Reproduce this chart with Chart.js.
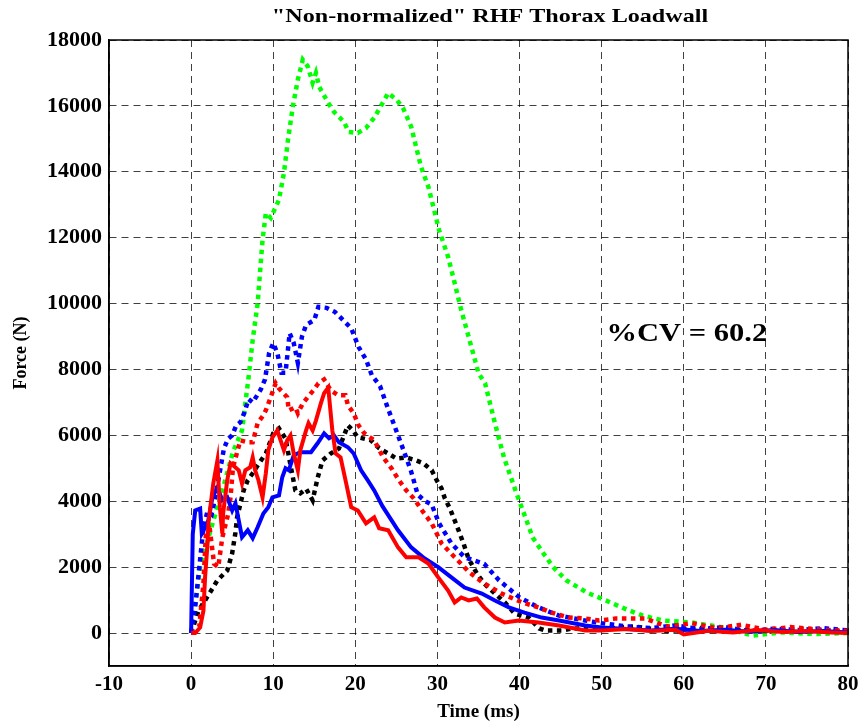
<!DOCTYPE html>
<html>
<head>
<meta charset="utf-8">
<script src="https://cdn.jsdelivr.net/npm/chart.js@4.4.1/dist/chart.umd.min.js"></script>
<style>
  html, body { margin: 0; padding: 0; background: #fff; overflow: hidden; }
  #wrap { width: 860px; height: 723px; position: relative; }
  canvas { display: block; }
</style>
</head>
<body>
<div id="wrap"><canvas id="myChart"></canvas></div>
<script>
// tick labels
const xTicks = [-10, 0, 10, 20, 30, 40, 50, 60, 70, 80];
const yTicks = [0, 2000, 4000, 6000, 8000, 10000, 12000, 14000, 16000, 18000];

// green dotted
const timeGreen = [0, 0.5, 1.1, 2, 2.7, 4, 5.1, 6.2, 7, 7.5, 8.1, 8.7, 9.1, 9.7, 10.7, 11.3, 11.8, 12.4, 13, 13.6, 14.2, 14.8, 15.2, 15.6, 16.7, 17.4, 18.6, 19.2, 20.3, 21.3, 22.3, 23.4, 24, 25, 25.8, 26.8, 27.4, 28, 28.9, 29.6, 30.2, 31.3, 32.1, 32.9, 33.8, 35, 35.8, 37, 38.1, 39.5, 40.4, 41.6, 42.9, 44.1, 45.7, 48.2, 50.5, 52.8, 55, 57.5, 61, 64.8, 68.4, 72, 76, 80];
const forceGreen = [0, 900, 2000, 2800, 3400, 4500, 5500, 6150, 7770, 8900, 10000, 11930, 12750, 12600, 13150, 13960, 14970, 16000, 16800, 17400, 17200, 16700, 17000, 16580, 16090, 15820, 15520, 15210, 15180, 15330, 15640, 16120, 16390, 16190, 15940, 15370, 14760, 14150, 13540, 12840, 12230, 11420, 10620, 9800, 8990, 7890, 7580, 6370, 5330, 4330, 3720, 2900, 2420, 2000, 1600, 1230, 990, 740, 530, 380, 320, 170, -80, 20, -30, 0];

// blue dotted
const timeBlueDot = [0, 0.5, 1, 1.5, 2, 2.5, 3, 3.5, 4, 4.5, 5, 5.5, 6, 6.5, 7, 7.5, 8, 8.5, 9, 9.5, 10, 10.5, 11, 11.5, 12, 12.5, 13, 13.5, 14, 15, 15.5, 16.5, 17.5, 18.5, 19.5, 20.4, 21.3, 22, 23, 24, 25.2, 26, 26.8, 27.6, 28.5, 29.3, 30.2, 31.7, 33.3, 35.7, 37.5, 40, 42.3, 44.8, 48, 50, 53, 56, 59, 62, 65, 68, 71, 74, 77, 80];
const forceBlueDot = [0, 800, 2000, 3200, 3700, 3600, 4200, 4900, 5600, 5900, 6000, 6300, 6400, 6700, 7100, 7000, 7200, 7400, 7700, 8500, 8800, 8500, 7900, 7900, 9100, 8800, 8200, 9000, 9350, 9500, 9900, 9870, 9750, 9500, 9250, 8680, 8300, 7830, 7500, 6800, 6000, 5460, 4900, 4200, 4000, 3900, 3330, 2720, 2300, 2100, 1600, 1080, 780, 530, 380, 300, 200, 150, 230, 120, 180, 60, 130, 90, 150, 80];

// black dotted
const timeBlack = [0, 0.9, 2.3, 3.2, 4.4, 5, 5.4, 5.6, 6.4, 6.9, 7.5, 8.1, 9.1, 10, 10.7, 11.5, 12.1, 12.7, 13.3, 14, 14.8, 15.4, 16, 17, 18, 19.1, 19.7, 20.3, 20.9, 21.9, 22.9, 24, 25, 26.2, 27.4, 28.3, 29.3, 29.9, 30.5, 30.9, 31.5, 32, 32.6, 33.2, 33.8, 34.8, 35.7, 37, 38.2, 39.4, 41.1, 42.4, 43.1, 45.2, 46.4, 50, 54, 58, 62, 66, 70, 74, 80];
const forceBlack = [0, 680, 1230, 1600, 1900, 2420, 3050, 3510, 4330, 4640, 4850, 5090, 5450, 6060, 6210, 5900, 5100, 4330, 4240, 4380, 4030, 4700, 5240, 5450, 5600, 6300, 6150, 5940, 5910, 5850, 5610, 5450, 5300, 5330, 5240, 5150, 4940, 4640, 4390, 4090, 3790, 3480, 3100, 2700, 2250, 1810, 1500, 1200, 930, 590, 470, 140, 80, 80, 140, 120, 200, 60, 150, 100, 60, 120, 50];

// red dotted
const timeRedDot = [0, 1, 1.5, 1.8, 2.2, 2.8, 3.3, 3.8, 4.5, 4.8, 5.1, 6, 6.9, 7.5, 8.1, 8.8, 9.1, 9.7, 10.3, 10.7, 11.7, 11.9, 12.7, 13, 13.6, 14.2, 14.9, 15.5, 16.2, 17, 17.9, 18.8, 19.1, 19.8, 20.4, 21.1, 22.3, 23.4, 24.4, 25.3, 26.2, 27.1, 28.3, 29.3, 30.5, 32.1, 33.9, 35.7, 37.8, 40.3, 42.3, 43.9, 46, 48, 49.7, 51.7, 55.3, 58, 61, 64, 67, 70, 73, 76, 80];
const forceRedDot = [0, 200, 1500, 3000, 3300, 2100, 2000, 2900, 3600, 4120, 5030, 5850, 5790, 5790, 6370, 6610, 6760, 7160, 7580, 7430, 7160, 6760, 6850, 6670, 6970, 7160, 7370, 7580, 7700, 7370, 7220, 7220, 6910, 6670, 6300, 6060, 5850, 5330, 5000, 4640, 4330, 4090, 3660, 3330, 2720, 2300, 1840, 1500, 1200, 930, 780, 620, 470, 440, 380, 440, 440, 200, 300, 150, 250, 100, 180, 120, 60];

// blue solid
const timeBlue = [0, 0.2, 0.5, 1.1, 1.3, 1.7, 2.1, 2.6, 3.2, 3.8, 4.4, 5, 5.4, 5.8, 6.2, 6.9, 7.5, 8.1, 8.8, 9.4, 9.9, 10.7, 11.1, 11.5, 11.9, 12.5, 13.3, 14.6, 15.4, 16.2, 16.8, 17.4, 18, 19.1, 19.8, 20.7, 21.5, 22.3, 23.3, 25.2, 26.8, 28.4, 30.1, 31.7, 33.3, 35.4, 37, 38.7, 40.6, 42.7, 44.8, 48, 50, 53, 56, 59, 62, 65, 68, 71, 74, 77, 80];
const forceBlue = [0, 3000, 3720, 3780, 3020, 3210, 3420, 4120, 4420, 4030, 4120, 3720, 3940, 3420, 2910, 3120, 2880, 3210, 3630, 3820, 4120, 4180, 4730, 5000, 4940, 5400, 5490, 5490, 5760, 6060, 5910, 6000, 5790, 5640, 5450, 4940, 4640, 4330, 3850, 3120, 2600, 2270, 2000, 1690, 1380, 1200, 990, 780, 620, 470, 380, 230, 170, 120, 80, 130, 60, 100, 40, 90, 30, 60, 20];

// red solid
const timeRed = [0, 0.5, 1.1, 1.5, 1.7, 2, 2.1, 2.7, 3.2, 3.3, 3.5, 3.8, 3.9, 4.4, 4.8, 5.1, 5.8, 6.2, 6.6, 7.2, 7.5, 7.8, 8.2, 8.7, 9.1, 9.4, 9.9, 10.5, 10.9, 11.3, 11.7, 12.1, 12.5, 13, 13.3, 14, 14.3, 14.8, 15.2, 15.8, 16.2, 16.7, 17.2, 17.6, 18.2, 18.8, 19.5, 20.3, 21.3, 22.3, 22.9, 24, 25.2, 26.2, 27.7, 28.9, 30.1, 31.3, 32.1, 32.9, 33.8, 34.8, 35.7, 37, 38.2, 39.9, 42.3, 44.8, 48, 50, 53, 56, 59, 60, 63, 66, 69, 72, 75, 78, 80];
const forceRed = [0, 0, 170, 680, 1690, 2720, 3330, 4540, 5240, 4730, 3820, 3020, 3630, 4640, 5150, 5090, 4940, 4540, 4940, 5030, 5330, 4940, 4640, 4120, 4850, 5550, 5940, 6150, 5850, 5550, 5850, 6000, 5450, 4940, 5550, 6150, 6370, 6150, 6450, 6970, 7280, 7450, 6150, 5450, 5330, 4640, 3820, 3720, 3330, 3510, 3180, 3120, 2600, 2300, 2300, 2110, 1690, 1290, 930, 1080, 990, 1050, 780, 470, 320, 380, 320, 230, 80, 80, 120, 60, 100, -40, 70, 20, 90, 30, 60, 20, 0];

const cvText = "%CV = 60.2";
const serif = "'Liberation Serif', 'Times New Roman', serif";

function pts(t, f) {
  return t.map((x, i) => ({ x: x, y: f[i] }));
}

function line(label, t, f, color, dotted) {
  return {
    label: label,
    data: pts(t, f),
    borderColor: color,
    backgroundColor: color,
    borderWidth: dotted ? 4.5 : 4,
    borderDash: dotted ? [4.5, 4.5] : [],
    borderCapStyle: "butt",
    pointRadius: 0,
    tension: 0,
    fill: false,
  };
}

// box round the plot, title and the %CV label
const extras = {
  id: "extras",
  afterDraw(chart) {
    const ctx = chart.ctx;
    const a = chart.chartArea;
    ctx.save();
    ctx.strokeStyle = "#000";
    ctx.lineWidth = 1.5;
    ctx.strokeRect(a.left, a.top, a.right - a.left, a.bottom - a.top);

    ctx.fillStyle = "#000";
    ctx.textBaseline = "middle";
    ctx.textAlign = "center";
    ctx.save();
    ctx.translate(490, 17);
    ctx.scale(1.27, 1);
    ctx.font = "bold 19px " + serif;
    ctx.fillText('"Non-normalized" RHF Thorax Loadwall', 0, 0);
    ctx.restore();

    const x = chart.scales.x.getPixelForValue(50.6);
    const y = chart.scales.y.getPixelForValue(9050);
    ctx.font = "bold 25px " + serif;
    ctx.textAlign = "left";
    ctx.translate(x, y);
    ctx.scale(1.22, 1);
    ctx.fillText(cvText, 0, 0);
    ctx.restore();
  },
};

const ctx = document.getElementById("myChart").getContext("2d");
const myChart = new Chart(ctx, {
  type: "line",
  data: {
    datasets: [
      line("red", timeRed, forceRed, "#ff0000", false),
      line("blue", timeBlue, forceBlue, "#0000ff", false),
      line("red dotted", timeRedDot, forceRedDot, "#ff0000", true),
      line("blue dotted", timeBlueDot, forceBlueDot, "#0000ff", true),
      line("black dotted", timeBlack, forceBlack, "#000000", true),
      line("green dotted", timeGreen, forceGreen, "#00ff00", true),
    ],
  },
  options: {
    responsive: true,
    maintainAspectRatio: false,
    animation: false,
    layout: { padding: { top: 40, right: 12, left: 0, bottom: 0 } },
    plugins: {
      legend: { display: false },
      title: { display: false },
      tooltip: { enabled: false },
    },
    scales: {
      x: {
        type: "linear",
        min: -10,
        max: 80,
        afterBuildTicks: (s) => { s.ticks = xTicks.map((v) => ({ value: v })); },
        afterFit: (s) => {
          s.height = 57;
          s.paddingLeft = 0;
          s.paddingRight = 0;
        },
        grid: { color: "rgba(0,0,0,0.75)", lineWidth: 1, drawTicks: false },
        border: { display: true, color: "#000", width: 1.5, dash: [7, 5] },
        ticks: {
          color: "#000",
          padding: 6,
          font: { family: serif, size: 21, weight: "bold" },
          callback: (v) => String(v),
        },
        title: {
          display: true,
          text: "Time (ms)",
          color: "#000",
          padding: { top: 0, bottom: 0 },
          font: { family: serif, size: 19, weight: "bold" },
        },
      },
      y: {
        type: "linear",
        min: -1000,
        max: 18000,
        afterBuildTicks: (s) => { s.ticks = yTicks.map((v) => ({ value: v })); },
        afterFit: (s) => { s.width = 109; },
        grid: { color: "rgba(0,0,0,0.75)", lineWidth: 1, drawTicks: false },
        border: { display: true, color: "#000", width: 1.5, dash: [7, 5] },
        ticks: {
          color: "#000",
          padding: 7,
          font: { family: serif, size: 22, weight: "bold" },
          callback: (v) => String(v),
        },
        title: {
          display: true,
          text: "Force (N)",
          color: "#000",
          padding: { top: 11, bottom: 0 },
          font: { family: serif, size: 18, weight: "bold" },
        },
      },
    },
  },
  plugins: [extras],
});
</script>
</body>
</html>
